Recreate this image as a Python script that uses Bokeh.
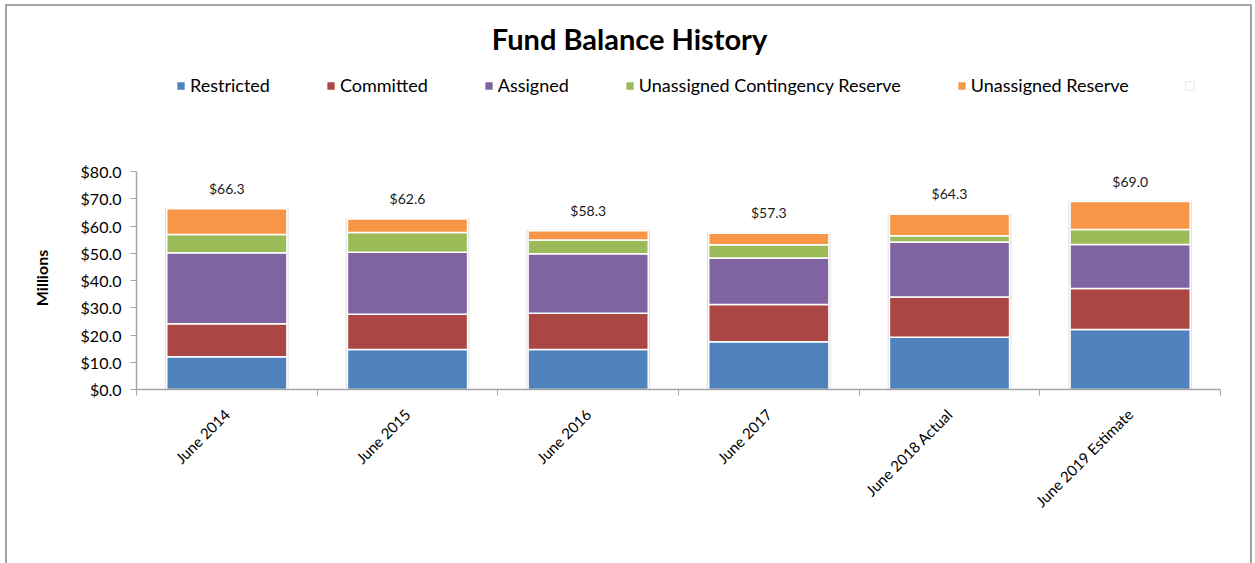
from bokeh.plotting import figure
from bokeh.models import (ColumnDataSource, Range1d, FixedTicker, NumeralTickFormatter,
                          Label, Legend, LegendItem)
from bokeh.core.properties import value
from bokeh.embed import file_html
from bokeh.resources import INLINE
import math

categories = ["June 2014", "June 2015", "June 2016", "June 2017",
              "June 2018 Actual", "June 2019 Estimate"]
restricted = [12.0, 14.7, 14.7, 17.5, 19.2, 22.0]
committed = [12.1, 12.9, 13.3, 13.7, 14.7, 15.1]
assigned = [26.1, 22.8, 21.8, 17.1, 20.2, 16.1]
contingency = [6.7, 7.2, 5.1, 4.8, 2.3, 5.5]
unassigned = [9.4, 5.0, 3.4, 4.2, 7.9, 10.3]
series_names = ["Restricted", "Committed", "Assigned",
                "Unassigned Contingency Reserve", "Unassigned Reserve"]
y_ticks = [0, 10, 20, 30, 40, 50, 60, 70, 80]

colors = ["#4F81BD", "#AA4643", "#8064A2", "#9BBB59", "#F79646"]
FONT = "Lato"

# layout (pixels)
W, H = 1255, 563
FRAME_L, FRAME_R, FRAME_T, FRAME_B = 136, 1220, 10, 389
AXIS_TOP_PX = 171          # where $80.0 sits
y_max = y_ticks[-1] * (FRAME_B - FRAME_T) / (FRAME_B - AXIS_TOP_PX)

xs = [i + 1 for i in range(len(categories))]
totals = [round(a + b + c + d + e, 1) for a, b, c, d, e in
          zip(restricted, committed, assigned, contingency, unassigned)]
keys = ["s%d" % i for i in range(len(series_names))]
data = dict(x=xs, total=totals,
            total_label=["$%.1f" % t for t in totals],
            label_y=[t + 7.5 for t in totals],
            shadow_top=[t + 0.3 for t in totals],
            zero=[0] * len(xs))
for k, s in zip(keys, [restricted, committed, assigned, contingency, unassigned]):
    data[k] = s
src = ColumnDataSource(data)

p = figure(width=W, height=H, output_backend="svg", toolbar_location=None,
           x_range=Range1d(0.5, len(categories) + 0.5), y_range=Range1d(0, y_max),
           min_border_left=FRAME_L, min_border_right=W - FRAME_R,
           min_border_top=FRAME_T, min_border_bottom=H - FRAME_B)
p.outline_line_color = None
p.xgrid.visible = False
p.ygrid.visible = False
p.background_fill_color = "white"
p.border_fill_alpha = 0
g = "linear-gradient(#a3a3a3,#a3a3a3)"
p.styles = {
    "background": (f"{g} 5px 4px / 2px 100% no-repeat, "
                   f"{g} 5px 4px / 1247px 2px no-repeat, "
                   f"{g} 1250px 4px / 2px 100% no-repeat, white"),
}

# shadow behind bars
p.vbar(x="x", top="shadow_top", bottom=0, width=0.685, source=src,
       fill_color="#d4d4d4", fill_alpha=0.7, line_color=None)

rends = p.vbar_stack(keys, x="x", width=0.665, source=src, color=colors,
                     line_color="white", line_width=1.5)

# empty legend marker (hidden total series)
dummy = p.vbar(x="x", top="zero", bottom="zero", width=0.0, source=src,
               fill_color="white", line_color="#e8e8e8", line_width=1)

p.text(x="x", y="label_y", text="total_label", source=src,
       text_font=value(FONT), text_font_size="14px", text_color="#1a1a1a",
       text_align="center", text_baseline="middle")

# axes
ax = p.xaxis[0]
ax.ticker = FixedTicker(ticks=xs, minor_ticks=[x - 0.5 for x in xs] + [xs[-1] + 0.5])
ax.major_label_overrides = {x: c for x, c in zip(xs, categories)}
ax.major_label_orientation = math.pi / 4
ax.major_tick_out = 0
ax.major_tick_in = 0
ax.minor_tick_out = 6
ax.minor_tick_in = 0
ax.minor_tick_line_color = "#a6a6a6"
ax.axis_line_color = "#a6a6a6"
ax.axis_line_width = 1.5
ax.major_label_text_font = FONT
ax.major_label_text_font_size = "15px"
ax.major_label_text_color = "#000000"
ax.major_label_standoff = 16

ay = p.yaxis[0]
ay.ticker = FixedTicker(ticks=y_ticks)
ay.bounds = (y_ticks[0], y_ticks[-1])
ay.formatter = NumeralTickFormatter(format="$0.0")
ay.major_tick_out = 6
ay.major_tick_in = 0
ay.minor_tick_line_color = None
ay.major_tick_line_color = "#a6a6a6"
ay.axis_line_color = "#a6a6a6"
ay.axis_line_width = 1.5
ay.major_label_text_font = FONT
ay.major_label_text_font_size = "16px"
ay.major_label_text_color = "#000000"
ay.major_label_standoff = 9
# trailing em spaces centre the visible word on the $0-$80 span
ay.axis_label = "Millions" + "\u2003" * 13
ay.axis_label_text_font = FONT
ay.axis_label_text_font_size = "16px"
ay.axis_label_text_font_style = "bold"
ay.axis_label_text_color = "#000000"
ay.axis_label_standoff = 27

# title (inside the tall frame, above the axis bounds)
p.add_layout(Label(x=629 - FRAME_L, y=FRAME_B - 38, x_units="screen", y_units="screen",
                   text="Fund Balance History", text_font=FONT,
                   text_font_size="29px", text_font_style="bold",
                   text_color="#000000", text_align="center",
                   text_baseline="middle"))

items = [LegendItem(label=n, renderers=[r]) for n, r in zip(series_names, rends)]
items.append(LegendItem(label=" ", renderers=[dummy]))
legend = Legend(items=items, orientation="horizontal",
                location=(175 - FRAME_L, FRAME_B - 96),
                glyph_width=11, glyph_height=11, label_standoff=4, spacing=55,
                padding=0, margin=0, border_line_alpha=0, background_fill_alpha=0,
                label_text_font=FONT, label_text_font_size="18px",
                label_text_color="#000000", label_height=11)
p.add_layout(legend)

open("out.html", "w").write(file_html(p, INLINE))
